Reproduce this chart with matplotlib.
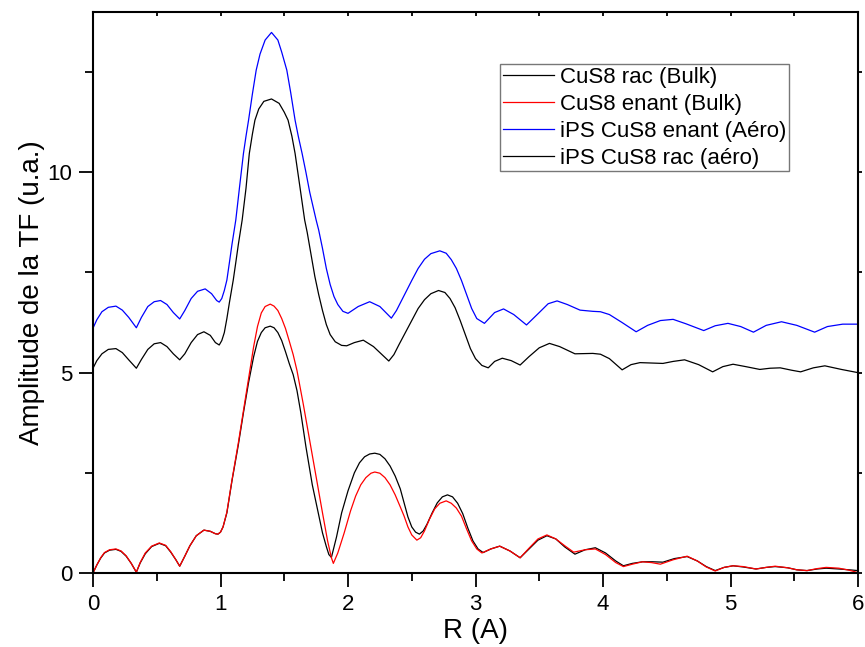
import matplotlib
matplotlib.use("Agg")
import matplotlib.pyplot as plt
from matplotlib.ticker import MultipleLocator

plt.rcParams['font.family'] = ['Liberation Sans', 'DejaVu Sans']

# ---- data ----
x_rac_bulk = [0.00, 0.03, 0.06, 0.09, 0.13, 0.18, 0.22, 0.26, 0.30, 0.34, 0.37, 0.41, 0.46, 0.52,
              0.57, 0.61, 0.65, 0.68, 0.72, 0.76, 0.81, 0.87, 0.92, 0.96, 0.98, 1.00, 1.02, 1.05,
              1.09, 1.14, 1.18, 1.22, 1.26, 1.29, 1.32, 1.35, 1.39, 1.42, 1.45, 1.48, 1.51, 1.54,
              1.57, 1.60, 1.63, 1.67, 1.72, 1.77, 1.80, 1.83, 1.85, 1.87, 1.91, 1.95, 2.00, 2.05,
              2.09, 2.13, 2.17, 2.21, 2.25, 2.29, 2.33, 2.37, 2.41, 2.44, 2.47, 2.50, 2.53, 2.56,
              2.59, 2.62, 2.66, 2.70, 2.74, 2.78, 2.82, 2.86, 2.90, 2.94, 2.98, 3.02, 3.06, 3.12,
              3.19, 3.27, 3.35, 3.42, 3.49, 3.56, 3.63, 3.70, 3.78, 3.86, 3.94, 4.02, 4.10, 4.16,
              4.23, 4.31, 4.39, 4.47, 4.56, 4.66, 4.74, 4.81, 4.88, 4.95, 5.02, 5.10, 5.20, 5.28,
              5.35, 5.45, 5.52, 5.60, 5.68, 5.75, 5.85, 5.93, 6.00]
y_rac_bulk = [0.00, 0.20, 0.37, 0.50, 0.57, 0.59, 0.54, 0.42, 0.24, 0.02, 0.25, 0.48, 0.66, 0.74,
              0.68, 0.52, 0.33, 0.17, 0.42, 0.68, 0.93, 1.07, 1.04, 0.98, 0.97, 1.02, 1.15, 1.50,
              2.30, 3.20, 4.00, 4.75, 5.40, 5.78, 6.00, 6.12, 6.16, 6.12, 6.00, 5.80, 5.52, 5.22,
              4.95, 4.55, 4.00, 3.15, 2.20, 1.45, 1.00, 0.66, 0.46, 0.39, 0.90, 1.50, 2.05, 2.50,
              2.75, 2.90, 2.97, 2.99, 2.96, 2.85, 2.67, 2.42, 2.10, 1.75, 1.40, 1.15, 1.02, 0.97,
              1.05, 1.22, 1.50, 1.75, 1.90, 1.95, 1.90, 1.74, 1.48, 1.12, 0.80, 0.60, 0.51, 0.60,
              0.67, 0.55, 0.38, 0.60, 0.82, 0.93, 0.85, 0.65, 0.47, 0.58, 0.63, 0.50, 0.30, 0.18,
              0.24, 0.28, 0.28, 0.27, 0.36, 0.41, 0.30, 0.16, 0.06, 0.14, 0.18, 0.15, 0.10, 0.14,
              0.16, 0.13, 0.08, 0.06, 0.10, 0.12, 0.10, 0.08, 0.06]

x_enant_bulk = [0.00, 0.03, 0.06, 0.09, 0.13, 0.18, 0.22, 0.26, 0.30, 0.34, 0.37, 0.41, 0.46, 0.52,
                0.57, 0.61, 0.65, 0.68, 0.72, 0.76, 0.81, 0.87, 0.92, 0.96, 0.98, 1.00, 1.02, 1.05,
                1.09, 1.14, 1.18, 1.22, 1.26, 1.29, 1.32, 1.35, 1.39, 1.42, 1.45, 1.48, 1.51, 1.54,
                1.57, 1.60, 1.65, 1.70, 1.75, 1.80, 1.84, 1.87, 1.885, 1.92, 1.97, 2.02, 2.06, 2.10,
                2.14, 2.18, 2.21, 2.25, 2.29, 2.33, 2.37, 2.41, 2.44, 2.47, 2.50, 2.54, 2.57, 2.60,
                2.64, 2.68, 2.72, 2.77, 2.81, 2.85, 2.89, 2.93, 2.97, 3.01, 3.05, 3.12, 3.19, 3.27,
                3.35, 3.42, 3.49, 3.56, 3.63, 3.70, 3.77, 3.86, 3.94, 4.02, 4.10, 4.16, 4.23, 4.31,
                4.38, 4.45, 4.55, 4.66, 4.74, 4.81, 4.88, 4.95, 5.02, 5.10, 5.20, 5.28, 5.35, 5.45,
                5.52, 5.60, 5.68, 5.75, 5.85, 5.93, 6.00]
y_enant_bulk = [0.00, 0.20, 0.38, 0.51, 0.58, 0.60, 0.55, 0.43, 0.24, 0.02, 0.26, 0.50, 0.67, 0.75,
                0.69, 0.53, 0.33, 0.17, 0.42, 0.68, 0.93, 1.07, 1.04, 0.98, 0.97, 1.02, 1.15, 1.52,
                2.32, 3.25, 4.05, 4.85, 5.65, 6.15, 6.49, 6.65, 6.71, 6.66, 6.55, 6.35, 6.10, 5.78,
                5.45, 5.05, 4.20, 3.30, 2.40, 1.50, 0.80, 0.38, 0.24, 0.50, 1.00, 1.55, 1.92, 2.20,
                2.38, 2.49, 2.52, 2.49, 2.38, 2.20, 1.95, 1.65, 1.42, 1.15, 0.95, 0.82, 0.88, 1.05,
                1.35, 1.60, 1.74, 1.80, 1.74, 1.62, 1.42, 1.10, 0.80, 0.60, 0.50, 0.60, 0.67, 0.55,
                0.38, 0.62, 0.85, 0.95, 0.85, 0.68, 0.52, 0.58, 0.60, 0.46, 0.26, 0.16, 0.22, 0.28,
                0.26, 0.22, 0.33, 0.42, 0.30, 0.15, 0.05, 0.14, 0.18, 0.16, 0.10, 0.14, 0.17, 0.13,
                0.08, 0.06, 0.11, 0.14, 0.12, 0.07, 0.01]

x_ips_enant = [0.00, 0.03, 0.07, 0.12, 0.18, 0.23, 0.28, 0.34, 0.38, 0.43, 0.48, 0.53, 0.58, 0.63,
               0.68, 0.72, 0.77, 0.82, 0.88, 0.93, 0.97, 0.99, 1.01, 1.03, 1.05, 1.07, 1.09, 1.12,
               1.15, 1.18, 1.20, 1.22, 1.25, 1.28, 1.31, 1.35, 1.40, 1.45, 1.48, 1.52, 1.55, 1.585,
               1.61, 1.64, 1.67, 1.70, 1.75, 1.77, 1.80, 1.83, 1.86, 1.89, 1.92, 1.96, 2.00, 2.08,
               2.17, 2.25, 2.34, 2.38, 2.42, 2.46, 2.50, 2.55, 2.60, 2.65, 2.72, 2.77, 2.81, 2.85,
               2.89, 2.93, 2.97, 3.01, 3.07, 3.15, 3.22, 3.30, 3.40, 3.50, 3.57, 3.64, 3.72, 3.82,
               3.92, 3.98, 4.05, 4.15, 4.26, 4.35, 4.45, 4.55, 4.65, 4.79, 4.88, 4.98, 5.08, 5.18,
               5.28, 5.40, 5.52, 5.66, 5.76, 5.88, 6.00]
y_ips_enant = [6.11, 6.32, 6.52, 6.63, 6.66, 6.56, 6.38, 6.12, 6.38, 6.65, 6.77, 6.80, 6.70, 6.50,
               6.34, 6.55, 6.85, 7.03, 7.09, 6.97, 6.80, 6.76, 6.85, 7.05, 7.31, 7.75, 8.20, 8.81,
               9.65, 10.47, 10.90, 11.30, 11.95, 12.55, 12.95, 13.30, 13.49, 13.30, 13.00, 12.55, 12.00, 11.30,
               10.90, 10.47, 10.00, 9.50, 8.81, 8.56, 8.10, 7.60, 7.20, 6.90, 6.70, 6.53, 6.48, 6.65,
               6.77, 6.65, 6.36, 6.55, 6.80, 7.05, 7.30, 7.60, 7.83, 7.97, 8.04, 7.98, 7.82, 7.60,
               7.30, 6.95, 6.60, 6.35, 6.23, 6.50, 6.59, 6.45, 6.19, 6.50, 6.72, 6.79, 6.70, 6.56,
               6.53, 6.52, 6.45, 6.25, 6.02, 6.18, 6.30, 6.33, 6.22, 6.05, 6.17, 6.23, 6.15, 6.01,
               6.18, 6.27, 6.18, 6.01, 6.15, 6.21, 6.21]

x_ips_rac = [0.00, 0.03, 0.07, 0.12, 0.18, 0.23, 0.28, 0.34, 0.38, 0.43, 0.48, 0.53, 0.58, 0.63,
             0.68, 0.72, 0.77, 0.82, 0.87, 0.92, 0.96, 0.99, 1.01, 1.03, 1.05, 1.07, 1.10, 1.12,
             1.14, 1.17, 1.20, 1.226, 1.25, 1.27, 1.30, 1.34, 1.40, 1.46, 1.50, 1.53, 1.56, 1.585,
             1.62, 1.66, 1.68, 1.71, 1.74, 1.77, 1.80, 1.83, 1.86, 1.90, 1.95, 1.99, 2.05, 2.12,
             2.20, 2.32, 2.36, 2.40, 2.45, 2.50, 2.55, 2.60, 2.65, 2.71, 2.76, 2.80, 2.84, 2.88,
             2.92, 2.96, 3.00, 3.05, 3.10, 3.15, 3.21, 3.28, 3.35, 3.42, 3.50, 3.58, 3.66, 3.78,
             3.92, 3.98, 4.05, 4.15, 4.22, 4.29, 4.38, 4.47, 4.55, 4.64, 4.75, 4.86, 4.94, 5.02,
             5.12, 5.23, 5.31, 5.39, 5.48, 5.55, 5.65, 5.74, 5.87, 6.00]
y_ips_rac = [5.11, 5.30, 5.47, 5.58, 5.60, 5.50, 5.32, 5.11, 5.33, 5.58, 5.72, 5.75, 5.65, 5.47,
             5.32, 5.47, 5.75, 5.95, 6.02, 5.93, 5.75, 5.69, 5.80, 6.00, 6.35, 6.75, 7.31, 7.75,
             8.20, 8.81, 9.60, 10.47, 10.95, 11.30, 11.58, 11.77, 11.83, 11.72, 11.50, 11.30, 10.90, 10.47,
             9.70, 8.81, 8.50, 7.95, 7.40, 6.95, 6.55, 6.20, 5.95, 5.77, 5.68, 5.67, 5.75, 5.81,
             5.65, 5.29, 5.45, 5.70, 6.00, 6.30, 6.60, 6.82, 6.97, 7.05, 7.00, 6.85, 6.62, 6.30,
             5.95, 5.60, 5.35, 5.18, 5.12, 5.28, 5.36, 5.30, 5.19, 5.40, 5.62, 5.73, 5.65, 5.47,
             5.48, 5.46, 5.35, 5.07, 5.20, 5.25, 5.24, 5.23, 5.28, 5.32, 5.20, 5.02, 5.15, 5.21,
             5.15, 5.08, 5.11, 5.12, 5.06, 5.02, 5.12, 5.17, 5.08, 5.00]

labels = ["CuS8 rac (Bulk)", "CuS8 enant (Bulk)", "iPS CuS8 enant (Aéro)", "iPS CuS8 rac (aéro)"]

fig = plt.figure(figsize=(8.65, 6.47), dpi=100)
ax = fig.add_axes([93/865, 1-573/647, (858-93)/865, (573-12)/647])

lw = 0.9
ax.plot(x_rac_bulk, y_rac_bulk, color='black', lw=lw, label=labels[0])
ax.plot(x_enant_bulk, y_enant_bulk, color='red', lw=lw, label=labels[1])
ax.plot(x_ips_enant, y_ips_enant, color='blue', lw=lw, label=labels[2])
ax.plot(x_ips_rac, y_ips_rac, color='black', lw=lw, label=labels[3])

ax.set_xlim(0, 6)
ax.set_ylim(0, 14)
ax.xaxis.set_major_locator(MultipleLocator(1))
ax.xaxis.set_minor_locator(MultipleLocator(0.5))
ax.yaxis.set_major_locator(MultipleLocator(5))
ax.yaxis.set_minor_locator(MultipleLocator(2.5))

for s in ax.spines.values():
    s.set_linewidth(1.5)

# bottom / left: outward ticks
ax.tick_params(axis='both', which='major', direction='out', length=10, width=1.3,
               labelsize=16, pad=5)
ax.tick_params(axis='both', which='minor', direction='out', length=6, width=1.3)

# mirrored small ticks on top (inward) and right
ax.tick_params(axis='x', which='both', top=True, labeltop=False)
ax.tick_params(axis='y', which='both', right=True, labelright=False)
for t in ax.xaxis.get_major_ticks() + ax.xaxis.get_minor_ticks():
    t.tick2line.set_markersize(3)
    t.tick2line.set_marker(3)  # TICKDOWN = inward at top
for t in ax.yaxis.get_major_ticks() + ax.yaxis.get_minor_ticks():
    t.tick2line.set_markersize(3)

ax.set_xlabel("R (A)", fontsize=20, labelpad=2)
ax.set_ylabel("Amplitude de la TF (u.a.)", fontsize=20, labelpad=2)

leg = ax.legend(loc='upper left', bbox_to_anchor=((500-93)/765, (573-64)/561),
                borderaxespad=0, fontsize=16, frameon=True, fancybox=False,
                edgecolor='#555555', handlelength=2.3, handletextpad=0.3,
                labelspacing=0.27, borderpad=0.12)
leg.get_frame().set_linewidth(1.0)

fig.savefig("out.png", dpi=100)
